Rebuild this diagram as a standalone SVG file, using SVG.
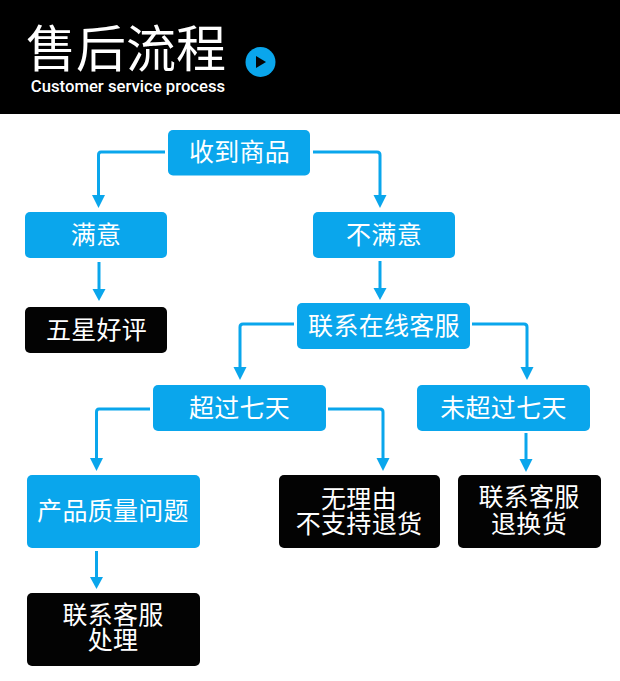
<svg xmlns="http://www.w3.org/2000/svg" width="620" height="681" viewBox="0 0 620 681">
<defs>
<style>
.b{fill:#0aa6ec}
.k{fill:#030303}
text{font-family:"Noto Sans CJK SC","Noto Sans",sans-serif;fill:#fff;text-anchor:middle;font-size:25px;letter-spacing:.3px}
.c path{fill:none;stroke:#0aa6ec;stroke-width:3;stroke-linejoin:round}
.c polygon{fill:#0aa6ec}
</style>
</defs>
<rect width="620" height="681" fill="#fff"/>
<g id="header">
<rect width="620" height="114" fill="#000"/>
<text x="126" y="67" style="font-size:50px;letter-spacing:0;font-weight:400">售后流程</text>
<text x="128" y="92" style="font-family:Roboto,sans-serif;font-weight:500;font-size:16.700px;letter-spacing:0">Customer service process</text>
<circle cx="260.500" cy="62" r="15" class="b"/>
<polygon points="256,56 256,68 266,62" fill="#050505"/>
</g>
<g id="connectors" class="c">
<path d="M165 152H101Q98.500 152 98.500 155V198"/><polygon points="92,195 105,195 98.500,208"/>
<path d="M313 152H377Q380 152 380 155V198"/><polygon points="373.500,195 386.500,195 380,208"/>
<path d="M99 262V292"/><polygon points="92.500,289 105.500,289 99,301"/>
<path d="M380 261V291"/><polygon points="373.500,288 386.500,288 380,300"/>
<path d="M294 324H243Q240 324 240 327V370"/><polygon points="233.500,367 246.500,367 240,380"/>
<path d="M472 324H524Q527 324 527 327V370"/><polygon points="520.500,367 533.500,367 527,380"/>
<path d="M150 409H99Q96.500 409 96.500 412V460"/><polygon points="90,458 103,458 96.500,471"/>
<path d="M328 409H380Q383 409 383 412V460"/><polygon points="376.500,458 389.500,458 383,471"/>
<path d="M526 433V462"/><polygon points="519.500,459 532.500,459 526,472"/>
<path d="M96.500 551V580"/><polygon points="90,577 103,577 96.500,589"/>
</g>
<g id="n1"><rect x="168" y="130" width="142" height="45.500" rx="5" class="b"/><text x="239.500" y="161">收到商品</text></g>
<g id="n2"><rect x="25" y="212" width="142" height="46" rx="5" class="b"/><text x="96" y="244">满意</text></g>
<g id="n3"><rect x="313" y="212" width="142" height="46" rx="5" class="b"/><text x="384" y="244">不满意</text></g>
<g id="n4"><rect x="25" y="307" width="142" height="46" rx="5" class="k"/><text x="96.500" y="339">五星好评</text></g>
<g id="n5"><rect x="297" y="303" width="173" height="46" rx="5" class="b"/><text x="384" y="335">联系在线客服</text></g>
<g id="n6"><rect x="153" y="385" width="173" height="46" rx="5" class="b"/><text x="239.500" y="417">超过七天</text></g>
<g id="n7"><rect x="417" y="385" width="173" height="46" rx="5" class="b"/><text x="503.500" y="417">未超过七天</text></g>
<g id="n8"><rect x="27" y="475" width="173" height="73" rx="5" class="b"/><text x="113" y="520">产品质量问题</text></g>
<g id="n9"><rect x="279" y="475" width="161" height="73" rx="5" class="k"/><text x="359" y="508">无理由</text><text x="359" y="533">不支持退货</text></g>
<g id="n10"><rect x="458" y="475" width="143" height="73" rx="5" class="k"/><text x="529" y="506">联系客服</text><text x="529" y="533">退换货</text></g>
<g id="n11"><rect x="27" y="593" width="173" height="73" rx="5" class="k"/><text x="113" y="624">联系客服</text><text x="113" y="649">处理</text></g>
</svg>
